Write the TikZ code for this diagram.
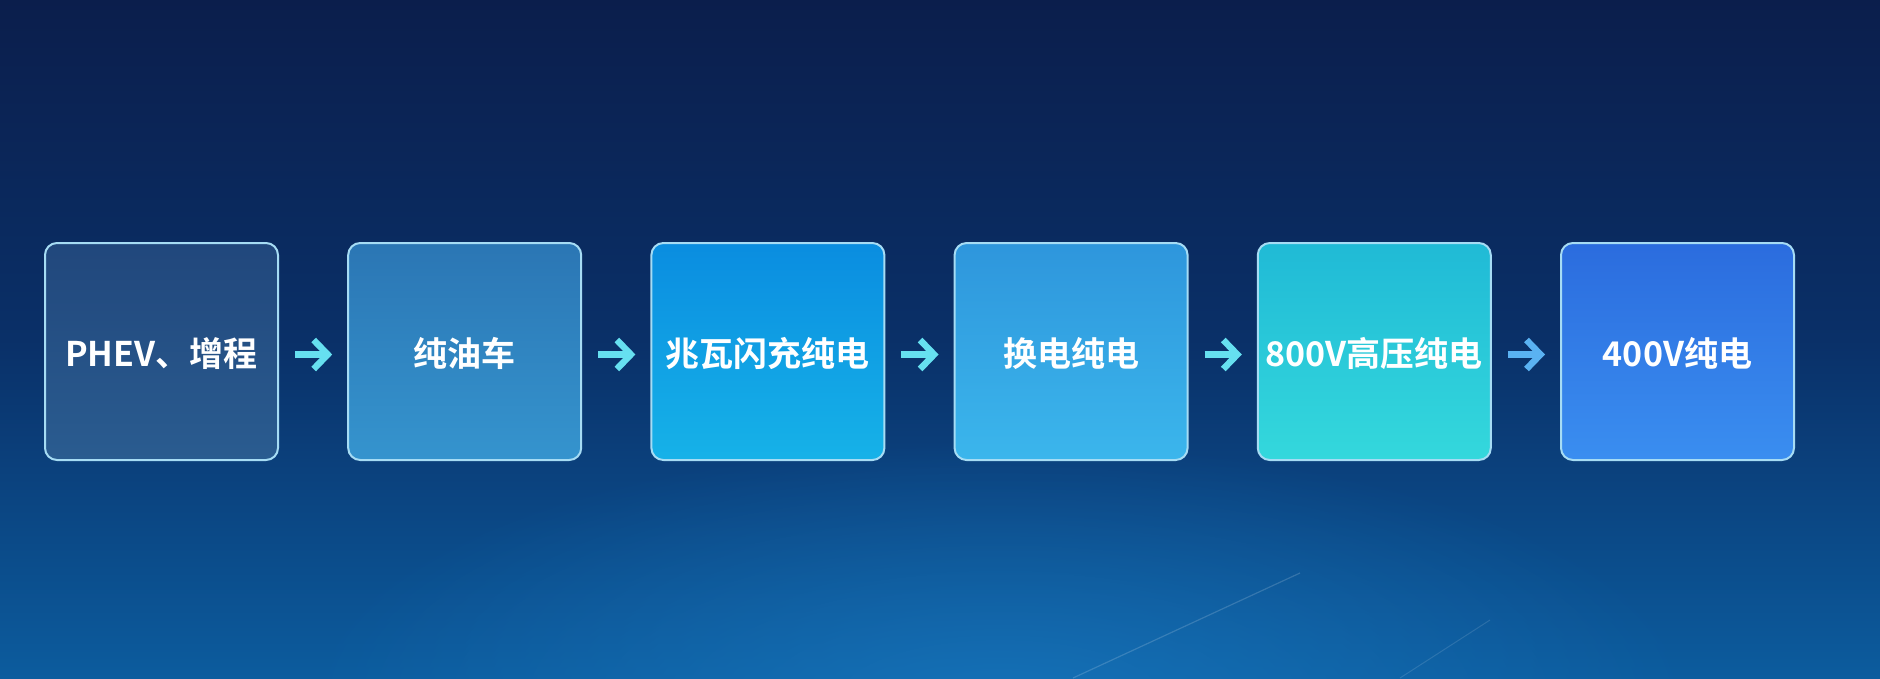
\documentclass[tikz,border=0pt]{standalone}
\usepackage{fontspec}
\setmainfont{Noto Sans CJK SC Bold}
\usetikzlibrary{arrows.meta,fadings}
\definecolor{bgTop}{HTML}{0B1E4C}
\definecolor{bgMid}{HTML}{0A3068}
\definecolor{bgBot}{HTML}{0C5C9E}
\definecolor{glow}{HTML}{1A7CC4}
\definecolor{edgeC}{HTML}{A6DCF4}
\definecolor{arrC}{HTML}{66E0F0}
\definecolor{arrD}{HTML}{5AB2F2}
\definecolor{bA1}{HTML}{21477C}\definecolor{bA2}{HTML}{2A5C90}
\definecolor{bB1}{HTML}{2B76B4}\definecolor{bB2}{HTML}{3594CE}
\definecolor{bC1}{HTML}{0A8DE0}\definecolor{bC2}{HTML}{16B2E8}
\definecolor{bD1}{HTML}{2E96DC}\definecolor{bD2}{HTML}{3BB6EC}
\definecolor{bE1}{HTML}{20BAD6}\definecolor{bE2}{HTML}{34D8DC}
\definecolor{bF1}{HTML}{2B6CDE}\definecolor{bF2}{HTML}{3A8EF0}
\tikzfading[name=glowfade, inner color=transparent!35, outer color=transparent!100]
\tikzset{
  stagebox/.style={draw=edgeC, line width=2pt, rounded corners=12pt,
    minimum width=233pt, minimum height=217pt, inner sep=0pt,
    text height=37pt, text depth=7pt,
    text=white, font=\fontsize{34}{40}\selectfont},
  flowarrow/.style={draw=arrC, line width=6.5pt, shorten <=16pt, shorten >=15pt,
    -{Straight Barb[length=14pt,width=29pt,line width=6.5pt]}}
}
\begin{document}
\begin{tikzpicture}[x=1pt,y=-1pt]
\useasboundingbox (0,0) rectangle (1880,678);
\shade[top color=bgTop, bottom color=bgBot, middle color=bgMid] (0,0) rectangle (1880,678);
\fill[glow, path fading=glowfade] (1000,700) ellipse (700 and 260);
\draw[white, opacity=0.16, line width=1.2pt] (1073,678) -- (1300,573);
\draw[white, opacity=0.12, line width=1pt] (1400,678) -- (1490,620);
\node[stagebox, top color=bA1, bottom color=bA2] (b1) at (161.5,351.5) {PHEV、增程};
\node[stagebox, top color=bB1, bottom color=bB2] (b2) at (464.7,351.5) {纯油车};
\node[stagebox, top color=bC1, bottom color=bC2] (b3) at (767.9,351.5) {兆瓦闪充纯电};
\node[stagebox, top color=bD1, bottom color=bD2] (b4) at (1071.1,351.5) {换电纯电};
\node[stagebox, top color=bE1, bottom color=bE2] (b5) at (1374.3,351.5) {800V高压纯电};
\node[stagebox, top color=bF1, bottom color=bF2] (b6) at (1677.5,351.5) {400V纯电};
\draw[flowarrow] ([yshift=-3pt]b1.east) -- ([yshift=-3pt]b2.west);
\draw[flowarrow] ([yshift=-3pt]b2.east) -- ([yshift=-3pt]b3.west);
\draw[flowarrow] ([yshift=-3pt]b3.east) -- ([yshift=-3pt]b4.west);
\draw[flowarrow] ([yshift=-3pt]b4.east) -- ([yshift=-3pt]b5.west);
\draw[flowarrow, draw=arrD] ([yshift=-3pt]b5.east) -- ([yshift=-3pt]b6.west);
\end{tikzpicture}
\end{document}
